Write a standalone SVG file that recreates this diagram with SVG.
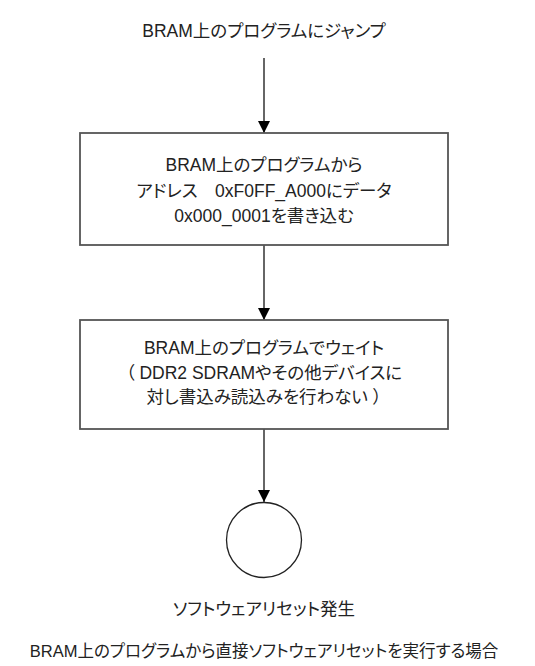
<svg xmlns="http://www.w3.org/2000/svg" width="535" height="666" viewBox="0 0 535 666">
<style>
text{font-family:"Liberation Sans","Noto Sans CJK JP",sans-serif;font-size:17.5px;fill:#222;text-anchor:middle;font-feature-settings:"palt";}
.cap{font-size:16.5px;}
.box{fill:#fff;stroke:#555;stroke-width:1.8;}
.edge{stroke:#333;stroke-width:1.5;fill:none;marker-end:url(#ah);}
</style>
<defs>
<marker id="ah" markerUnits="userSpaceOnUse" markerWidth="14" markerHeight="20" refX="12" refY="6" orient="auto">
<path d="M0,0 L12,6 L0,12 Z" fill="#000"/>
</marker>
</defs>
<rect width="535" height="666" fill="#fff"/>
<g id="connectors">
<line class="edge" x1="264" y1="58" x2="264" y2="133"/>
<line class="edge" x1="264" y1="245" x2="264" y2="320"/>
<line class="edge" x1="264" y1="429" x2="264" y2="502"/>
</g>
<g id="start">
<text x="264" y="37">BRAM上のプログラムにジャンプ</text>
</g>
<g id="write">
<rect class="box" x="80" y="133" width="368" height="112"/>
<text x="264" y="171">BRAM上のプログラムから</text>
<text x="264" y="197">アドレス　0xF0FF_A000にデータ</text>
<text x="264" y="222">0x000_0001を書き込む</text>
</g>
<g id="wait">
<rect class="box" x="80" y="320" width="368" height="109"/>
<text x="264" y="354">BRAM上のプログラムでウェイト</text>
<text x="264" y="379">（ DDR2 SDRAMやその他デバイスに</text>
<text x="264" y="403">対し書込み読込みを行わない ）</text>
</g>
<g id="reset">
<circle cx="264" cy="540" r="37.5" fill="#fff" stroke="#222" stroke-width="1.3"/>
<text x="264" y="615">ソフトウェアリセット発生</text>
</g>
<g id="caption">
<text class="cap" x="264" y="657">BRAM上のプログラムから直接ソフトウェアリセットを実行する場合</text>
</g>
</svg>
